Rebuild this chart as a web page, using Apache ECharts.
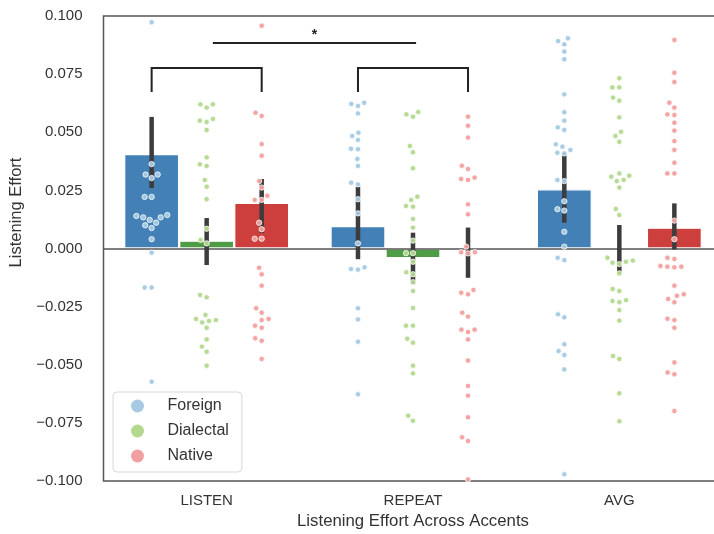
<!DOCTYPE html>
<html><head><meta charset="utf-8">
<script src="https://cdn.jsdelivr.net/npm/echarts@6/dist/echarts.min.js"></script>
<style>html,body{margin:0;padding:0;background:#fff}#c{width:714px;height:534px}</style>
</head><body><div id="c"></div>
<script>
// ---------- data ----------
const categories = ['LISTEN', 'REPEAT', 'AVG'];
const hues = ['Foreign', 'Dialectal', 'Native'];

// bar heights (means) and confidence intervals, per category
const foreignMean   = [0.0406, 0.0097, 0.0255];
const dialectalMean = [0.0034, -0.0042, -0.0005];
const nativeMean    = [0.0197, -0.0008, 0.0090];
const foreignLo   = [0.0260, -0.0046, 0.0111];
const foreignHi   = [0.0566, 0.0266, 0.0412];
const dialectalLo = [-0.0071, -0.0154, -0.0107];
const dialectalHi = [0.0131, 0.0068, 0.0101];
const nativeLo    = [0.0067, -0.0126, -0.0004];
const nativeHi    = [0.0299, 0.0090, 0.0194];

// individual observations (swarm points)
const listenForeign = [0.0973, 0.0363, 0.0318, 0.0303, 0.0318, 0.0222, 0.0222, 0.0140, 0.0134, 0.0111, 0.0088, 0.0100, 0.0123, 0.0134, 0.0144, 0.0040, -0.0018, -0.0168, -0.0168, -0.0573];
const listenDialectal = [0.0620, 0.0606, 0.0620, 0.0544, 0.0550, 0.0557, 0.0510, 0.0392, 0.0355, 0.0362, 0.0295, 0.0266, 0.0212, 0.0085, 0.0037, 0.0022, -0.0200, -0.0210, -0.0303, -0.0318, -0.0341, -0.0312, -0.0308, -0.0286, -0.0391, -0.0422, -0.0444, -0.0504];
const listenNative = [0.0958, 0.0584, 0.0570, 0.0449, 0.0399, 0.0290, 0.0262, 0.0227, 0.0209, 0.0209, 0.0111, 0.0083, 0.0042, 0.0042, -0.0083, -0.0111, -0.0160, -0.0257, -0.0276, -0.0303, -0.0308, -0.0341, -0.0332, -0.0386, -0.0397, -0.0475];
const repeatForeign = [0.0613, 0.0622, 0.0627, 0.0581, 0.0484, 0.0467, 0.0498, 0.0427, 0.0429, 0.0385, 0.0355, 0.0276, 0.0283, 0.0212, 0.0151, 0.0022, -0.0088, -0.0091, -0.0081, -0.0257, -0.0305, -0.0401, -0.0627];
const repeatDialectal = [0.0577, 0.0567, 0.0587, 0.0414, 0.0441, 0.0345, 0.0209, 0.0180, 0.0183, 0.0223, 0.0127, 0.0090, 0.0034, -0.0020, -0.0020, -0.0057, -0.0111, -0.0102, -0.0145, -0.0183, -0.0256, -0.0332, -0.0332, -0.0388, -0.0405, -0.0504, -0.0537, -0.0719, -0.0741];
const repeatNative = [0.0567, 0.0528, 0.0477, 0.0342, 0.0356, 0.0299, 0.0295, 0.0305, 0.0190, 0.0147, 0.0008, -0.0016, -0.0021, -0.0016, -0.0190, -0.0197, -0.0178, -0.0276, -0.0293, -0.0359, -0.0349, -0.0349, -0.0391, -0.0482, -0.0591, -0.0633, -0.0726, -0.0812, -0.0828, -0.0993];
const avgForeign = [0.0904, 0.0878, 0.0892, 0.0847, 0.0814, 0.0663, 0.0586, 0.0550, 0.0510, 0.0521, 0.0448, 0.0412, 0.0409, 0.0424, 0.0438, 0.0295, 0.0290, 0.0203, 0.0169, 0.0163, 0.0072, 0.0008, -0.0040, -0.0050, -0.0283, -0.0296, -0.0412, -0.0441, -0.0458, -0.0520, -0.0971];
const avgDialectal = [0.0732, 0.0693, 0.0693, 0.0636, 0.0649, 0.0564, 0.0484, 0.0502, 0.0459, 0.0323, 0.0313, 0.0290, 0.0262, 0.0295, 0.0309, 0.0170, 0.0144, -0.0040, -0.0061, -0.0067, -0.0057, -0.0052, -0.0107, -0.0183, -0.0174, -0.0222, -0.0231, -0.0226, -0.0265, -0.0310, -0.0462, -0.0475, -0.0623, -0.0743];
const avgNative = [0.0897, 0.0756, 0.0716, 0.0606, 0.0627, 0.0574, 0.0577, 0.0541, 0.0507, 0.0462, 0.0424, 0.0369, 0.0323, 0.0323, 0.0120, 0.0040, -0.0045, -0.0040, -0.0078, -0.0081, -0.0078, -0.0075, -0.0160, -0.0217, -0.0231, -0.0203, -0.0197, -0.0308, -0.0302, -0.0341, -0.0490, -0.0533, -0.0541, -0.0699];

// significance annotations (category index pairs, y levels)
const bracketCats = [0, 1];
const bracketBottom = 0.0673, bracketTop = 0.0776;
const sigFrom = 0, sigTo = 1, sigLevel = 0.0884, sigLabel = '*';

// ---------- styling ----------
const barColors = ['#4280b6', '#4f9c46', '#cd3f3d'];
const dotColors = ['#a6cae3', '#b3d98f', '#f2a09f'];
const FONT = 'Liberation Sans, Arial, sans-serif';
const TXT = '#333';

const means = [foreignMean, dialectalMean, nativeMean];
const los = [foreignLo, dialectalLo, nativeLo];
const his = [foreignHi, dialectalHi, nativeHi];
const points = [
  [listenForeign, repeatForeign, avgForeign],
  [listenDialectal, repeatDialectal, avgDialectal],
  [listenNative, repeatNative, avgNative]
];

const chart = echarts.init(document.getElementById('c'), null, {renderer: 'canvas'});

function hueOffset(api, h) {
  const band = api.size([1, 0])[0];
  return (h - 1) * band * 0.8 / 3;
}

function errRender(params, api) {
  const cat = api.value(0), h = api.value(1);
  const off = hueOffset(api, h);
  const p1 = api.coord([cat, api.value(2)]);
  const p2 = api.coord([cat, api.value(3)]);
  return {type: 'line', shape: {x1: p1[0] + off, y1: p1[1], x2: p2[0] + off, y2: p2[1]},
    style: {stroke: '#3c3c3c', lineWidth: 4.5, lineCap: 'butt'}};
}

function makeSwarmRender(h) {
  return function (params, api) {
    const cat = api.value(0);
    const c = api.coord([cat, api.value(1)]);
    const off = hueOffset(api, h);
    return {type: 'circle', shape: {cx: c[0] + off + api.value(2), cy: c[1], r: 2.7},
      style: {fill: dotColors[h], stroke: '#ffffff', lineWidth: 0.8, opacity: 0.95}};
  };
}

function annotRender(params, api) {
  const band = api.size([1, 0])[0];
  const els = [];
  const lw = 2, col = '#222';
  bracketCats.forEach(cat => {
    const c = api.coord([cat, bracketTop]);
    const b = api.coord([cat, bracketBottom]);
    const dx = band * 0.8 / 3;
    els.push({type: 'polyline', shape: {points: [[c[0] - dx, b[1]], [c[0] - dx, c[1]], [c[0] + dx, c[1]], [c[0] + dx, b[1]]]},
      style: {stroke: col, lineWidth: lw, fill: null}});
  });
  const a = api.coord([sigFrom, sigLevel]);
  const z = api.coord([sigTo, sigLevel]);
  const x1 = a[0] + band * 0.03, x2 = z[0] + band * 0.015;
  els.push({type: 'line', shape: {x1: x1, y1: a[1], x2: x2, y2: a[1]}, style: {stroke: col, lineWidth: lw}});
  els.push({type: 'text', style: {text: sigLabel, x: (x1 + x2) / 2, y: a[1] - 1, align: 'center', verticalAlign: 'bottom',
    font: 'bold 14px ' + FONT, fill: col}});
  return {type: 'group', children: els};
}

function buildOption(offsets) {
  const series = [];
  // bars
  for (let h = 0; h < 3; h++) {
    const s = {
      name: hues[h] + ' mean', type: 'bar', data: means[h], z: 2,
      barGap: '0%', barCategoryGap: '20%',
      itemStyle: {color: barColors[h], borderColor: '#fff', borderWidth: 1.2},
      emphasis: {disabled: true}, silent: true
    };
    if (h === 0) {
      s.markLine = {silent: true, symbol: ['none', 'none'], label: {show: false},
        lineStyle: {color: '#555', width: 1.5, type: 'solid'}, data: [{yAxis: 0}], z: 3};
    }
    series.push(s);
  }
  // error bars
  const errData = [];
  for (let h = 0; h < 3; h++) for (let c = 0; c < 3; c++) errData.push([c, h, los[h][c], his[h][c]]);
  series.push({name: 'ci', type: 'custom', renderItem: errRender, data: errData, z: 4, silent: true,
    encode: {x: 0, y: [2, 3]}});
  // swarms
  for (let h = 0; h < 3; h++) {
    const d = [];
    for (let c = 0; c < 3; c++) points[h][c].forEach((v, i) => d.push([c, v, offsets ? offsets[h][c][i] : 0]));
    series.push({name: hues[h], type: 'custom', renderItem: makeSwarmRender(h), data: d, z: 5, silent: true,
      itemStyle: {color: dotColors[h]}, encode: {x: 0, y: 1}});
  }
  // annotations
  series.push({name: 'sig', type: 'custom', renderItem: annotRender, data: [[0, sigLevel]], z: 6, silent: true,
    encode: {x: 0, y: 1}});

  return {
    animation: false,
    backgroundColor: '#fff',
    textStyle: {fontFamily: FONT},
    grid: {left: 103.5, right: -8.5, top: 16, bottom: 53, show: true, borderColor: '#555', borderWidth: 1.5,
      containLabel: false, outerBoundsMode: 'none'},
    legend: {
      data: hues.map((n, i) => ({name: n, icon: 'circle', itemStyle: {color: dotColors[i], opacity: 1}})),
      orient: 'vertical', left: 113, top: 392, itemWidth: 50, itemHeight: 13, itemGap: 9,
      padding: [6, 13, 8, 18], borderColor: '#d8d8d8', borderWidth: 1, borderRadius: 4, backgroundColor: '#fff',
      textStyle: {fontSize: 16, color: TXT, fontFamily: FONT}, selectedMode: false, z: 10
    },
    xAxis: {
      type: 'category', data: categories,
      axisLine: {show: false, onZero: false}, axisTick: {show: false},
      axisLabel: {fontSize: 15, color: TXT, margin: 12, fontFamily: FONT},
      name: 'Listening Effort Across Accents', nameLocation: 'middle', nameGap: 32,
      nameTextStyle: {fontSize: 16.8, color: TXT, fontFamily: FONT}
    },
    yAxis: {
      type: 'value', min: -0.1, max: 0.1, interval: 0.025,
      axisLine: {show: false}, axisTick: {show: false}, splitLine: {show: false},
      axisLabel: {fontSize: 15, color: TXT, margin: 21, fontFamily: FONT,
        formatter: v => (v < -1e-9 ? '\u2212' : '') + Math.abs(v).toFixed(3)},
      name: 'Listening Effort', nameLocation: 'middle', nameGap: 66,
      nameTextStyle: {fontSize: 16.5, color: TXT, fontFamily: FONT, padding: [0, 0, 0, 72]}
    },
    series: series
  };
}

// beeswarm placement in pixel space (closest-to-center non-overlapping)
function beeswarm(ysPx, d) {
  const order = ysPx.map((y, i) => i).sort((a, b) => ysPx[b] - ysPx[a]);
  const placed = [];
  const offs = new Array(ysPx.length).fill(0);
  for (const i of order) {
    const y = ysPx[i];
    const nb = placed.filter(p => Math.abs(p.y - y) < d);
    const cands = [0];
    nb.forEach(p => {
      const dx = Math.sqrt(Math.max(0, d * d - (p.y - y) * (p.y - y)));
      cands.push(p.x + dx, p.x - dx);
    });
    cands.sort((a, b) => Math.abs(a) - Math.abs(b) || a - b);
    for (const c of cands) {
      if (nb.every(p => (p.x - c) * (p.x - c) + (p.y - y) * (p.y - y) >= d * d - 1e-6)) {
        offs[i] = c; placed.push({x: c, y: y}); break;
      }
    }
  }
  return offs;
}

chart.setOption(buildOption(null));
const DIAM = 7;
const offsets = points.map(hp => hp.map(arr => {
  const ys = arr.map(v => chart.convertToPixel({yAxisIndex: 0}, v));
  return beeswarm(ys, DIAM);
}));
chart.setOption(buildOption(offsets), true);
</script>
</body></html>
